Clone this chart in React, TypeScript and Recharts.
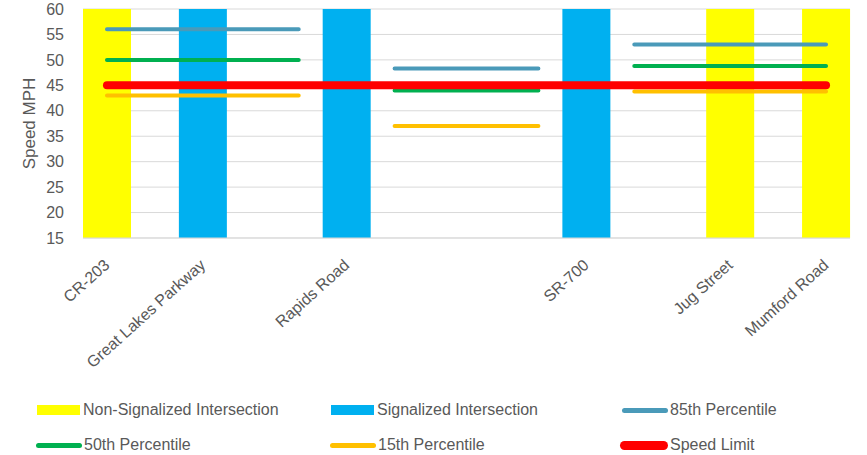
import React from 'react';
import { ComposedChart, Bar, Line, XAxis, YAxis, CartesianGrid, Legend } from 'recharts';

// 16 equal slots along the road; only some carry a name
const SLOTS = ['CR-203', '', 'Great Lakes Parkway', '', '', 'Rapids Road', '', '', '', '', 'SR-700', '', '', 'Jug Street', '', 'Mumford Road'];

const NON_SIGNALIZED = [60, null, null, null, null, null, null, null, null, null, null, null, null, 60, null, 60];
const SIGNALIZED = [null, null, 60, null, null, 60, null, null, null, null, 60, null, null, null, null, null];

const P85 = [56, 56, 56, 56, 56, null, 48.3, 48.3, 48.3, 48.3, null, 53, 53, 53, 53, 53];
const P50 = [50, 50, 50, 50, 50, null, 44, 44, 44, 44, null, 48.8, 48.8, 48.8, 48.8, 48.8];
const P15 = [43, 43, 43, 43, 43, null, 37, 37, 37, 37, null, 43.8, 43.8, 43.8, 43.8, 43.8];
const SPEED_LIMIT = [45, 45, 45, 45, 45, 45, 45, 45, 45, 45, 45, 45, 45, 45, 45, 45];

const Y_TICKS = [15, 20, 25, 30, 35, 40, 45, 50, 55, 60];

const data = SLOTS.map((name, i) => ({
  name,
  nonSig: NON_SIGNALIZED[i],
  sig: SIGNALIZED[i],
  p85: P85[i],
  p50: P50[i],
  p15: P15[i],
  limit: SPEED_LIMIT[i],
}));

const FONT = '"Liberation Sans", Arial, sans-serif';
const TEXT = '#595959';

const COLORS = {
  nonSig: '#FFFF00',
  sig: '#00B0F0',
  p85: '#4A9AB9',
  p50: '#00B050',
  p15: '#FFC000',
  limit: '#FF0000',
};

const LEGEND_ROWS = [
  [
    { label: 'Non-Signalized Intersection', color: COLORS.nonSig, kind: 'rect', left: 37 },
    { label: 'Signalized Intersection', color: COLORS.sig, kind: 'rect', left: 331 },
    { label: '85th Percentile', color: COLORS.p85, kind: 'line', left: 622 },
  ],
  [
    { label: '50th Percentile', color: COLORS.p50, kind: 'line', left: 36 },
    { label: '15th Percentile', color: COLORS.p15, kind: 'line', left: 330 },
    { label: 'Speed Limit', color: COLORS.limit, kind: 'thick', left: 620 },
  ],
];

function SlotTick(props: any) {
  const { x, y, payload } = props;
  if (!payload.value) return null;
  return (
    <g transform={`translate(${x - 4},${y + 12})`}>
      <text x={0} y={0} dy="0.71em" textAnchor="end" transform="rotate(-42)" fill={TEXT} fontSize={16} fontFamily={FONT}>
        {payload.value}
      </text>
    </g>
  );
}

function ChartLegend() {
  return (
    <div style={{ position: 'relative', width: 867, height: 55, fontFamily: FONT, fontSize: 16, color: TEXT }}>
      {LEGEND_ROWS.map((row, r) =>
        row.map((item) => (
          <div key={item.label} style={{ position: 'absolute', left: item.left, top: r * 35, height: 20, lineHeight: '20px', display: 'flex', alignItems: 'center' }}>
            {item.kind === 'rect' ? (
              <span style={{ width: 43, height: 10, background: item.color, display: 'inline-block', marginRight: 3 }} />
            ) : (
              <span style={{ width: item.kind === 'thick' ? 48 : 46, height: item.kind === 'thick' ? 9 : 5, borderRadius: 5, background: item.color, display: 'inline-block', marginRight: 2 }} />
            )}
            <span style={{ whiteSpace: 'nowrap' }}>{item.label}</span>
          </div>
        ))
      )}
    </div>
  );
}

export default function App() {
  return (
    <div style={{ position: 'absolute', left: 0, top: 0, width: 867, height: 455, background: '#fff' }}>
      <ComposedChart width={867} height={455} data={data} margin={{ top: 9, right: 17, bottom: 0, left: 0 }} barCategoryGap={0}>
        <CartesianGrid vertical={false} stroke="#D9D9D9" strokeWidth={1} />
        <XAxis
          dataKey="name"
          interval={0}
          tick={<SlotTick />}
          tickLine={false}
          axisLine={{ stroke: '#D9D9D9', strokeWidth: 1 }}
          height={217}
        />
        <YAxis
          domain={[15, 60]}
          ticks={Y_TICKS}
          allowDataOverflow
          width={83}
          tickLine={false}
          axisLine={false}
          tickMargin={13}
          tick={{ fill: TEXT, fontSize: 16, fontFamily: FONT }}
          label={{ value: 'Speed MPH', angle: -90, position: 'center', dx: -13, fill: TEXT, fontSize: 17, fontFamily: FONT }}
        />
        <Legend layout="vertical" align="center" verticalAlign="middle" content={<ChartLegend />} wrapperStyle={{ left: 0, top: 400, width: 867 }} />
        <Bar dataKey="nonSig" stackId="site" fill={COLORS.nonSig} isAnimationActive={false} />
        <Bar dataKey="sig" stackId="site" fill={COLORS.sig} isAnimationActive={false} />
        <Line dataKey="p85" stroke={COLORS.p85} strokeWidth={4} strokeLinecap="round" dot={false} activeDot={false} isAnimationActive={false} />
        <Line dataKey="p50" stroke={COLORS.p50} strokeWidth={4} strokeLinecap="round" dot={false} activeDot={false} isAnimationActive={false} />
        <Line dataKey="p15" stroke={COLORS.p15} strokeWidth={4} strokeLinecap="round" dot={false} activeDot={false} isAnimationActive={false} />
        <Line dataKey="limit" stroke={COLORS.limit} strokeWidth={8} strokeLinecap="round" dot={false} activeDot={false} isAnimationActive={false} />
      </ComposedChart>
    </div>
  );
}
